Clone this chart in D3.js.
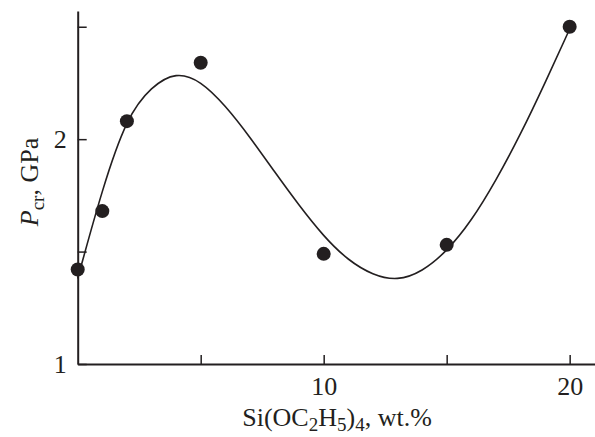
<!DOCTYPE html>
<html>
<head>
<meta charset="utf-8">
<script src="https://cdn.jsdelivr.net/npm/d3@7"></script>
<style>
  body { margin: 0; background: #fff; }
  svg { display: block; }
  text { font-family: "Liberation Serif", "Times New Roman", serif; fill: #231f20; }
</style>
</head>
<body>
<div id="chart"></div>
<script>
// measured points
var conc = [0, 1, 2, 5, 10, 15, 20];
var pcr = [1.42, 1.68, 2.08, 2.34, 1.49, 1.53, 2.50];

// fitted curve, control values at whole-number concentrations
var fitX = [0, 1, 2, 3, 4, 5, 6, 7, 8, 9, 10, 11, 12, 13, 14, 15, 16, 17, 18, 19, 20];
var fitY = [1.38, 1.78, 2.10, 2.235, 2.30, 2.26, 2.15, 2.01, 1.855, 1.705, 1.567, 1.46, 1.395, 1.37, 1.41, 1.50, 1.635, 1.815, 2.02, 2.25, 2.49];

// ticks
var xTicks = [5, 10, 15, 20];
var xLabels = {10: "10", 20: "20"};
var yTicks = [1, 1.5, 2, 2.5];
var yLabels = {1: "1", 2: "2"};

var width = 595, height = 437;
var ink = "#231f20";

var svg = d3.select("#chart").append("svg")
  .attr("width", width)
  .attr("height", height);

var x = d3.scaleLinear().domain([0, 21.03]).range([77.7, 595]);
var y = d3.scaleLinear().domain([1, 2.57]).range([364, 11]);

// x axis
var gx = svg.append("g")
  .attr("transform", "translate(0,364)")
  .call(d3.axisBottom(x)
    .tickValues(xTicks)
    .tickSizeInner(-9)
    .tickSizeOuter(0)
    .tickPadding(13)
    .tickFormat(function (d) { return xLabels[d] || ""; }));

// y axis
var gy = svg.append("g")
  .attr("transform", "translate(77.7,0)")
  .call(d3.axisLeft(y)
    .tickValues(yTicks)
    .tickSizeInner(-9)
    .tickSizeOuter(0)
    .tickPadding(11)
    .tickFormat(function (d) { return yLabels[d] || ""; }));

[gx, gy].forEach(function (g) {
  g.select(".domain").attr("stroke", ink).attr("stroke-width", 2);
  g.selectAll(".tick line").attr("stroke", ink).attr("stroke-width", 1.5);
  g.selectAll(".tick text")
    .attr("fill", ink)
    .style("font-size", "26px")
    .style("font-family", "'Liberation Serif', serif");
});
gx.selectAll(".tick text").attr("dy", "0.71em");

// fitted curve
var line = d3.line()
  .x(function (d) { return x(d[0]); })
  .y(function (d) { return y(d[1]); })
  .curve(d3.curveBasis);

svg.append("path")
  .datum(d3.zip(fitX, fitY))
  .attr("d", line)
  .attr("fill", "none")
  .attr("stroke", ink)
  .attr("stroke-width", 1.6);

// dots
svg.append("g")
  .selectAll("circle")
  .data(d3.zip(conc, pcr))
  .enter()
  .append("circle")
  .attr("cx", function (d) { return x(d[0]); })
  .attr("cy", function (d) { return y(d[1]); })
  .attr("r", 7)
  .attr("fill", ink);

// x label
var xl = svg.append("text")
  .attr("x", 337)
  .attr("y", 426)
  .attr("text-anchor", "middle")
  .style("font-size", "26px");
xl.append("tspan").text("Si(OC");
xl.append("tspan").attr("dy", 5).style("font-size", "19px").text("2");
xl.append("tspan").attr("dy", -5).text("H");
xl.append("tspan").attr("dy", 5).style("font-size", "19px").text("5");
xl.append("tspan").attr("dy", -5).text(")");
xl.append("tspan").attr("dy", 5).style("font-size", "19px").text("4");
xl.append("tspan").attr("dy", -5).text(", wt.%");

// y label
var yl = svg.append("text")
  .attr("transform", "translate(38,182) rotate(-90)")
  .attr("text-anchor", "middle")
  .style("font-size", "26px");
yl.append("tspan").style("font-style", "italic").text("P");
yl.append("tspan").attr("dy", 6).style("font-size", "19px").text("cr");
yl.append("tspan").attr("dy", -6).text(", GPa");
</script>
</body>
</html>
